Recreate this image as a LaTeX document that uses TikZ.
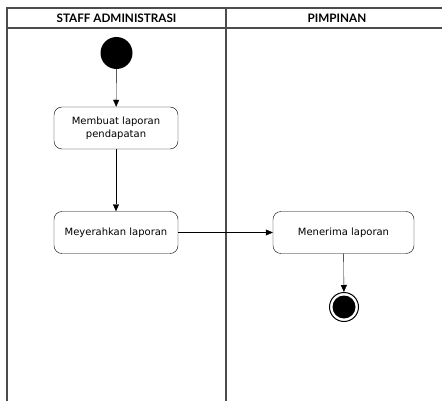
\documentclass[tikz,border=0pt]{standalone}
\usepackage{fontspec}
\setmainfont{DejaVu Sans}
\newfontfamily\lanefont{Lato}
\usetikzlibrary{arrows.meta}

\begin{document}
\begin{tikzpicture}[x=1pt, y=-1pt,
		lane/.style={draw=black!70, line width=1.1pt},
		lanetitle/.style={font=\lanefont\bfseries\fontsize{11.7}{13}\selectfont},
		activity/.style={draw, rounded corners=8pt, minimum height=42pt, align=center, font=\fontsize{10}{12.5}\selectfont},
		flow/.style={-{Triangle[length=7pt, width=6pt]}}]
		\def\laneTop{8} % top of the lanes
		\def\headBottom{28} % bottom of the header row
		\def\laneSplit{226} % line between the two lanes
		
		% Fix the size of the picture
		\useasboundingbox (0, 0) rectangle (442, 401);
		
		% Draw the lanes
		\draw[lane] (442, \laneTop) -- (7, \laneTop) -- (7, 401);
		\draw[lane] (7, \headBottom) -- (442, \headBottom);
		\draw[lane] (\laneSplit, \laneTop) -- (\laneSplit, 401);
		
		% Lane titles
		\node[lanetitle] (staff) at (116.5, 18.5) {STAFF ADMINISTRASI};
		\node[lanetitle] (pimpinan) at (337, 18.5) {PIMPINAN};
		
		% Start and end
		\node[circle, fill, minimum size=32pt, inner sep=0pt] (start) at (116.5, 53) {};
		\node[circle, draw, line width=1pt, minimum size=29pt, inner sep=0pt] (end) at (344, 307) {};
		\node[circle, fill, minimum size=23pt, inner sep=0pt] (endDot) at (344, 307) {};
		
		% Activities
		\node[activity, minimum width=124pt] (membuat) at (116, 128) {Membuat laporan\\pendapatan};
		\node[activity, minimum width=124pt] (menyerahkan) at (116, 232.5) {Meyerahkan laporan};
		\node[activity, minimum width=141pt] (menerima) at (343.5, 232.5) {Menerima laporan};
		
		% Flows
		\draw[flow] (start) -- (membuat);
		\draw[flow] (membuat) -- (menyerahkan);
		\draw[flow] (menyerahkan) -- (menerima);
		\draw[flow] (menerima) -- (end);
	\end{tikzpicture}
\end{document}
